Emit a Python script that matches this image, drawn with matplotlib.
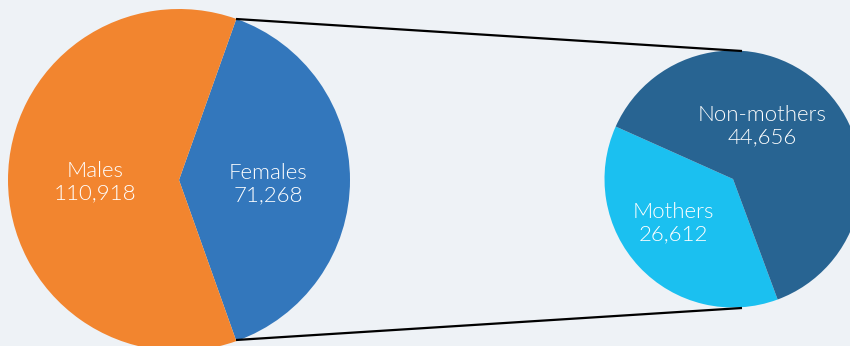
import matplotlib
matplotlib.use("Agg")
import matplotlib.pyplot as plt

# data
sex_labels = ["Females", "Males"]
sex_values = [71268, 110918]
mother_labels = ["Mothers", "Non-mothers"]
mother_values = [26612, 44656]

BG = "#EEF2F6"
C_SEX = ["#3377BC", "#F2852F"]
C_MOM = ["#1BC0F0", "#286492"]

fig = plt.figure(figsize=(8.5, 3.46), dpi=100, facecolor=BG)
ax = fig.add_axes([0, 0, 1, 1])
ax.set_facecolor(BG)

# left pie: females centred on the right-hand side
fem_share = sex_values[0] / sum(sex_values)
ax.pie(sex_values, colors=C_SEX, center=(179, 166), radius=171,
       startangle=-180 * fem_share, counterclock=True,
       wedgeprops=dict(linewidth=0))

# right pie
ax.pie(mother_values, colors=C_MOM, center=(733, 167), radius=128.5,
       startangle=155.9, counterclock=True,
       wedgeprops=dict(linewidth=0))

ax.set_xlim(0, 850)
ax.set_ylim(0, 346)
ax.set_aspect("equal")
ax.axis("off")

# connector lines
ax.plot([236, 742], [327, 295], color="black", lw=1.6, solid_capstyle="butt")
ax.plot([236, 742], [6, 38], color="black", lw=1.6, solid_capstyle="butt")

font = dict(family=["Lato", "DejaVu Sans"], fontweight=300, fontsize=16,
            color="white", ha="center", va="center", linespacing=1.12)

def lab(x, y, name, val):
    ax.text(x, y, f"{name}\n{val:,}", **font)

lab(95, 164, sex_labels[1], sex_values[1])
lab(268, 162, sex_labels[0], sex_values[0])
lab(762, 220, mother_labels[1], mother_values[1])
lab(673, 123, mother_labels[0], mother_values[0])

fig.savefig("out.png", dpi=100, facecolor=BG)
